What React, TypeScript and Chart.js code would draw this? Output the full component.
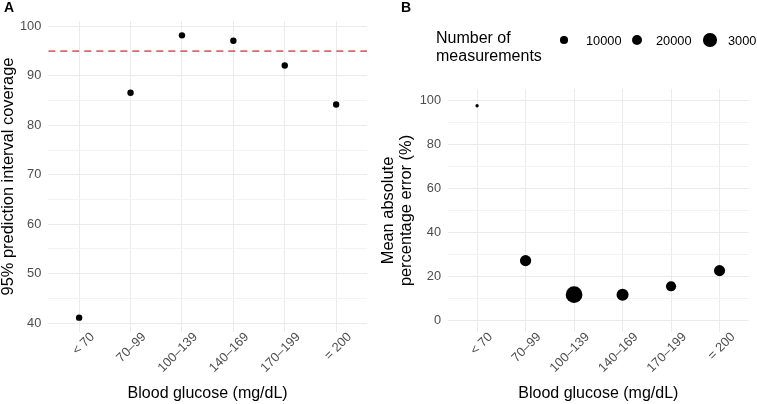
import React, { useEffect, useRef } from 'react';
import { Chart, registerables } from 'chart.js';
Chart.register(...registerables);

const categories = ['< 70', '70–99', '100–139', '140–169', '170–199', '= 200'];
const coverage = [41.1, 86.6, 98.2, 97.1, 92.1, 84.2];
const targetCoverage = 95;
const mape = [97.4, 27.3, 11.9, 11.9, 15.7, 22.8];
const measurements = [3000, 21000, 45000, 24000, 17500, 20500];
const legendCounts = [10000, 20000, 30000];
const coverageMajor = [40, 50, 60, 70, 80, 90, 100];
const mapeMajor = [0, 20, 40, 60, 80, 100];

const FONT = "'Liberation Sans', Arial, Helvetica, sans-serif";
const X_MIN = -0.6;
const X_MAX = categories.length - 1 + 0.6;
const sizeFor = (n: number) => Math.sqrt(Math.max(1.5, -2 + 0.0016 * n));

const withMinor = (major: number[]) => {
  const out: number[] = [];
  major.forEach((v, i) => {
    out.push(v);
    if (i < major.length - 1) out.push((v + major[i + 1]) / 2);
  });
  return out;
};

// Draws the 45° category labels under the x axis (ggplot-style placement)
const rotatedTicks = {
  id: 'rotatedTicks',
  afterDraw(chart: any) {
    const xs = chart.scales.x;
    const ctx = chart.ctx;
    ctx.save();
    ctx.font = `12.8px ${FONT}`;
    ctx.fillStyle = '#4D4D4D';
    ctx.textAlign = 'right';
    ctx.textBaseline = 'middle';
    categories.forEach((c, i) => {
      const px = xs.getPixelForValue(i);
      ctx.save();
      ctx.translate(px + 13.5, chart.chartArea.bottom + 3);
      ctx.rotate(-Math.PI / 4);
      ctx.fillText(c, 0, 0);
      ctx.restore();
    });
    ctx.restore();
  },
};

const xScale = (axisHeight: number) => ({
  type: 'linear',
  min: X_MIN,
  max: X_MAX,
  afterBuildTicks: (s: any) => {
    s.ticks = categories.map((_, i) => ({ value: i }));
  },
  afterFit: (s: any) => {
    s.height = axisHeight;
  },
  ticks: { display: false },
  grid: { color: '#EBEBEB', lineWidth: 1, drawTicks: false },
  border: { display: false },
  title: {
    display: true,
    text: 'Blood glucose (mg/dL)',
    color: '#000',
    font: { family: FONT, size: 16, lineHeight: 1.1 },
    padding: { top: 0, bottom: 2 },
  },
});

const yScale = (min: number, max: number, major: number[], width: number, title: any, titlePad: number) => ({
  type: 'linear',
  min,
  max,
  afterBuildTicks: (s: any) => {
    s.ticks = withMinor(major).map((v) => ({ value: v }));
  },
  afterFit: (s: any) => {
    s.width = width;
  },
  ticks: {
    callback: (v: any) => (major.includes(Number(v)) ? String(v) : ''),
    padding: 7,
    color: '#4D4D4D',
    font: { family: FONT, size: 12.8 },
  },
  grid: {
    color: (ctx: any) => (major.includes(ctx.tick?.value) ? '#EBEBEB' : '#F3F3F3'),
    lineWidth: 1,
    drawTicks: false,
  },
  border: { display: false },
  title: {
    display: true,
    text: title,
    color: '#000',
    font: { family: FONT, size: 16.4, lineHeight: 1.08 },
    padding: { top: titlePad, bottom: 0 },
  },
});

function ChartCanvas({ config, width, height, left }: any) {
  const ref = useRef<HTMLCanvasElement | null>(null);
  useEffect(() => {
    if (!ref.current) return;
    const chart = new Chart(ref.current, config());
    return () => chart.destroy();
  }, []);
  return (
    <canvas
      ref={ref}
      width={width}
      height={height}
      style={{ position: 'absolute', left, top: 0, width, height }}
    />
  );
}

const configA = () => ({
  type: 'scatter',
  data: {
    datasets: [
      {
        type: 'line',
        data: [
          { x: X_MIN, y: targetCoverage },
          { x: X_MAX, y: targetCoverage },
        ],
        borderColor: '#D86A6A',
        borderWidth: 1.8,
        borderDash: [7, 5],
        pointRadius: 0,
        fill: false,
      },
      {
        data: coverage.map((v, i) => ({ x: i, y: v })),
        backgroundColor: '#000',
        pointRadius: 3.2,
        borderWidth: 0,
      },
    ],
  },
  options: {
    animation: false,
    responsive: false,
    layout: { padding: { top: 21, right: 11, left: 0, bottom: 0 } },
    plugins: { legend: { display: false }, tooltip: { enabled: false } },
    scales: {
      x: xScale(72),
      y: yScale(38.2, 101.1, coverageMajor, 48.3, '95% prediction interval coverage', 0),
    },
  },
  plugins: [rotatedTicks],
});

const configB = () => ({
  type: 'scatter',
  data: {
    datasets: [
      {
        data: mape.map((v, i) => ({ x: i, y: v })),
        backgroundColor: '#000',
        pointRadius: measurements.map(sizeFor),
        borderWidth: 0,
      },
    ],
  },
  options: {
    animation: false,
    responsive: false,
    layout: { padding: { top: 89, right: 8, left: 0, bottom: 0 } },
    plugins: { legend: { display: false }, tooltip: { enabled: false } },
    scales: {
      x: xScale(72),
      y: yScale(-5, 105, mapeMajor, 70, ['Mean absolute', 'percentage error (%)'], 2),
    },
  },
  plugins: [rotatedTicks],
});

const legendX = [564, 637, 710];
const legendLabelX = [586, 656, 728];

export default function App() {
  return (
    <div
      style={{
        position: 'fixed',
        left: 0,
        top: 0,
        width: 757,
        height: 404,
        overflow: 'hidden',
        background: '#fff',
        fontFamily: FONT,
      }}
    >
      <ChartCanvas config={configA} width={378} height={404} left={0} />
      <ChartCanvas config={configB} width={379} height={404} left={378} />
      <div style={{ position: 'absolute', left: 4, top: 0, fontSize: 14, lineHeight: '14px', fontWeight: 'bold', color: '#000' }}>A</div>
      <div style={{ position: 'absolute', left: 401, top: 0, fontSize: 14, lineHeight: '14px', fontWeight: 'bold', color: '#000' }}>B</div>
      <div style={{ position: 'absolute', left: 436, top: 28.6, fontSize: 16, lineHeight: '18.4px', color: '#000', whiteSpace: 'nowrap' }}>
        Number of
        <br />
        measurements
      </div>
      {legendCounts.map((n, i) => {
        const r = sizeFor(n);
        return (
          <React.Fragment key={n}>
            <div
              style={{
                position: 'absolute',
                left: legendX[i] - r,
                top: 40 - r,
                width: 2 * r,
                height: 2 * r,
                borderRadius: '50%',
                background: '#000',
              }}
            />
            <div
              style={{
                position: 'absolute',
                left: legendLabelX[i],
                top: 32.6,
                fontSize: 12.8,
                lineHeight: '16px',
                color: '#000',
                whiteSpace: 'nowrap',
              }}
            >
              {String(n)}
            </div>
          </React.Fragment>
        );
      })}
    </div>
  );
}
